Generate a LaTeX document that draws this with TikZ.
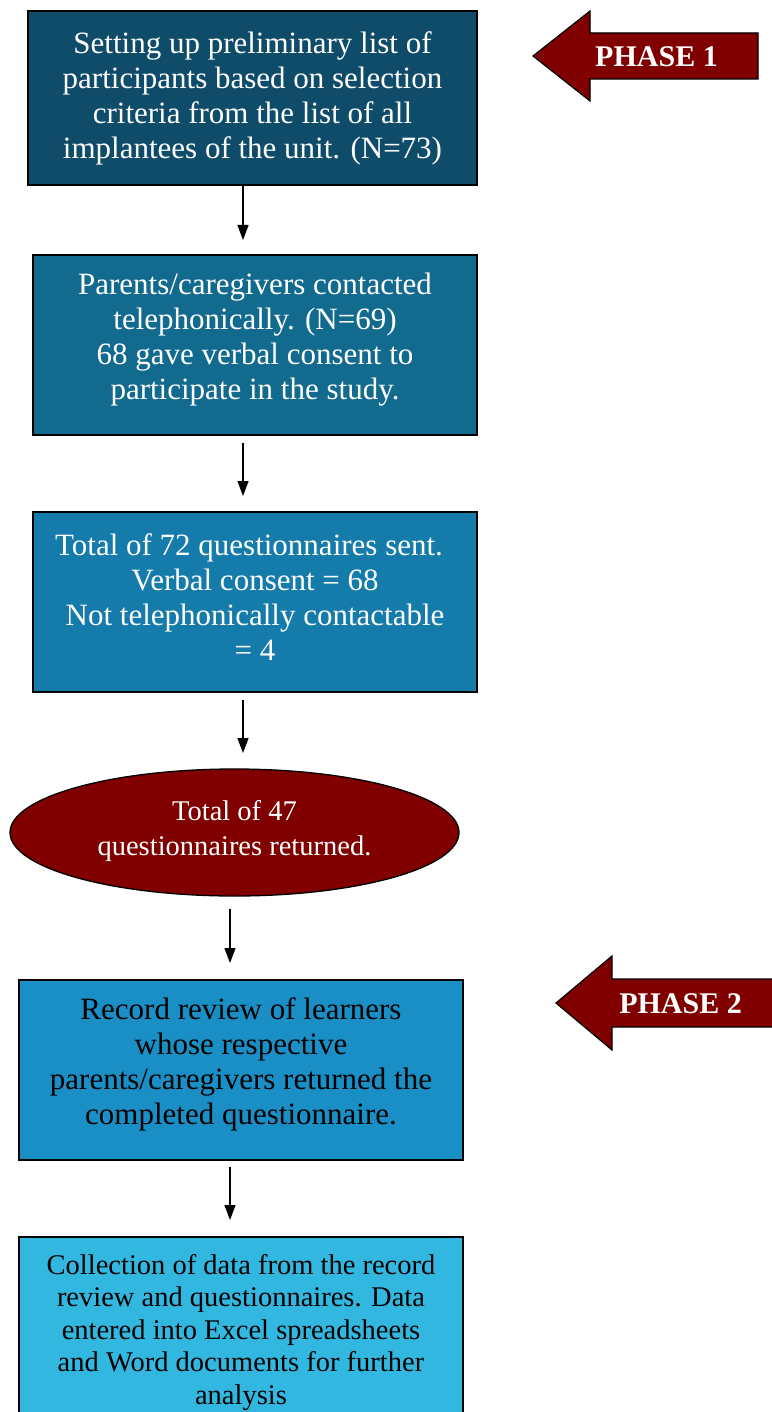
\documentclass[tikz,border=0pt]{standalone}
\usepackage{fontspec}
\setmainfont{Liberation Serif}
\usetikzlibrary{arrows.meta,shapes.geometric}
\definecolor{cone}{HTML}{0E4C69}
\definecolor{ctwo}{HTML}{126B8F}
\definecolor{cthree}{HTML}{147BAB}
\definecolor{cfive}{HTML}{198FC6}
\definecolor{csix}{HTML}{32B8E0}
\definecolor{maroon}{HTML}{800000}
\begin{document}
\begin{tikzpicture}[x=1pt,y=-1pt,
  box/.style={draw=black,line width=1.3pt,inner sep=0pt,minimum width=444pt,minimum height=180pt},
  txt/.style={align=center,font=\fontsize{31}{35}\selectfont},
  smalltxt/.style={align=center,font=\fontsize{28.5}{32.5}\selectfont},
  arr/.style={line width=1.3pt,-{Triangle[width=11pt,length=15pt]}},
  phase/.style={fill=maroon,draw=black,line width=1.2pt},
  phasetxt/.style={text=white,font=\fontsize{30}{34}\selectfont\bfseries}]
\useasboundingbox (0,0) rectangle (771,1412);

% boxes
\node[box,fill=cone,minimum width=449pt,minimum height=174pt,
  label={[txt,text=white,yshift=0pt]center:{Setting up preliminary list of\\participants based on selection\\criteria from the list of all\\implantees of the unit. (N=73)}}]
  (b1) at (252.5,98) {};
\node[box,fill=ctwo,
  label={[txt,text=white,yshift=5pt]center:{Parents/caregivers contacted\\telephonically. (N=69)\\68 gave verbal consent to\\participate in the study.}}]
  (b2) at (255,345) {};
\node[box,fill=cthree,
  label={[txt,text=white,yshift=5pt]center:{Total of 72 questionnaires sent.\hspace*{12pt}\\Verbal consent = 68\\Not telephonically contactable\\= 4}}]
  (b3) at (255,602) {};
\node[ellipse,draw=black,line width=1.3pt,fill=maroon,inner sep=0pt,minimum width=449pt,minimum height=127pt,
  label={[align=center,font=\fontsize{28.5}{35}\selectfont,text=white,yshift=2pt]center:{Total of 47\\questionnaires returned.}}]
  (e4) at (234.5,832.5) {};
\node[box,fill=cfive,
  label={[txt,text=black,yshift=5.5pt]center:{Record review of learners\\whose respective\\parents/caregivers returned the\\completed questionnaire.}}]
  (b5) at (241,1070) {};
\node[box,fill=csix,minimum height=186pt,
  label={[smalltxt,text=black,yshift=-2.5pt]center:{Collection of data from the record\\review and questionnaires. Data\\entered into Excel spreadsheets\\and Word documents for further\\analysis}}]
  (b6) at (241,1330) {};

% connectors
\coordinate (t1) at (243,240);
\coordinate (t2) at (243,496);
\coordinate (t3) at (243,753);
\coordinate (t4) at (230,963);
\coordinate (t5) at (230,1220);
\draw[arr] (b1.south -| t1) -- (t1);
\draw[arr,shorten <=7pt] (b2.south -| t2) -- (t2);
\draw[arr,shorten <=7pt] (b3.south -| t3) -- (t3);
\draw[arr] (t4 |- 0,909) -- (t4);
\draw[arr,shorten <=6pt] (b5.south -| t5) -- (t5);

% phase arrows
\draw[phase] (533,56) -- (590,11) -- (590,33) -- (758,33) -- (758,79) -- (590,79) -- (590,101) -- cycle;
\node[phasetxt] (p1) at (656.5,57) {PHASE 1};
\draw[phase] (556,1003) -- (612,956) -- (612,979) -- (795,979) -- (795,1027) -- (612,1027) -- (612,1050) -- cycle;
\node[phasetxt] (p2) at (680.5,1004) {PHASE 2};
\end{tikzpicture}
\end{document}
